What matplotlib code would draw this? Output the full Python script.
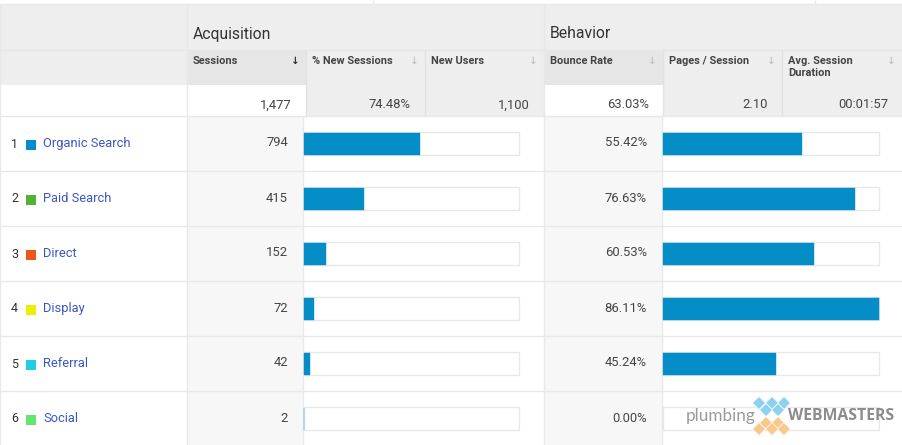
import matplotlib
matplotlib.use('Agg')
import matplotlib.pyplot as plt
from matplotlib.patches import Rectangle, Polygon

plt.rcParams['font.family'] = ['Roboto', 'DejaVu Sans']

W, H = 903, 445

channels = ['Organic Search', 'Paid Search', 'Direct', 'Display', 'Referral', 'Social']
swatches = ['#058dc7', '#50b432', '#ed561b', '#edef00', '#24cbe5', '#64e572']
sessions = [794, 415, 152, 72, 42, 2]
sessions_total = 1477
bounce = [55.42, 76.63, 60.53, 86.11, 45.24, 0.00]

metric_headers = ['Sessions', '% New Sessions', 'New Users', 'Bounce Rate', 'Pages / Session', 'Avg. Session\nDuration']
totals = ['1,477', '74.48%', '1,100', '63.03%', '2.10', '00:01:57']

LINE = '#e8e8e8'
HEAD = '#eeeeee'
BAR = '#058dc7'
TXT = '#444444'

# column edges of the metric headers, left edge of each + right end
col_x = [188, 307, 426, 545, 664, 783, 903]
ROW0, ROW_H = 116, 55


def box(ax, x0, y0, x1, y1, color, z=1):
    ax.add_patch(Rectangle((x0, y0), x1 - x0, y1 - y0, facecolor=color, edgecolor='none', zorder=z))


def bar_axes(fig, left, width, values, vmax):
    bar_ax = fig.add_axes([left / W, 0, width / W, (H - ROW0) / H])
    bar_ax.set_xlim(0, vmax)
    bar_ax.set_ylim((H - ROW0) / ROW_H - 0.5, -0.5)
    bar_ax.axis('off')
    rows = range(len(values))
    tracks = bar_ax.barh(rows, [vmax] * len(values), height=23 / ROW_H, facecolor='white', edgecolor=LINE, linewidth=1, zorder=1)
    for t in tracks:
        t.set_clip_on(False)
    # a non zero bar is always at least a hairline wide
    edges = [BAR if v > 0 else 'none' for v in values]
    bars = bar_ax.barh(rows, values, height=22 / ROW_H, color=BAR, edgecolor=edges, linewidth=0.3, zorder=2)
    for b in bars:
        b.set_clip_on(False)
    return bar_ax


fig = plt.figure(figsize=(W / 100, H / 100), dpi=100)
ax = fig.add_axes([0, 0, 1, 1])
ax.set_xlim(0, W)
ax.set_ylim(H, 0)
ax.axis('off')

# header bands
box(ax, 0, 4, W, 85, HEAD)
box(ax, 188, 50, 306, 85, '#e6e6e6', 2)
box(ax, 545, 50, 663, 85, '#e6e6e6', 2)
box(ax, 307, 85, 545, 116, HEAD)
box(ax, 664, 85, W, 116, HEAD)

# pale value columns
box(ax, 188, 116, 304, H, '#f7f7f7')
box(ax, 545, 116, 663, H, '#f7f7f7')

# grid
ax.hlines([3.5], 0, W, color=LINE, lw=1, zorder=3)
ax.vlines([373.5, 815.5], 0, 3, color=LINE, lw=1, zorder=3)
ax.hlines([49.5], 0, W, color='#e6e6e6', lw=1, zorder=3)
ax.hlines([ROW0 + ROW_H * i - 0.5 for i in range(6)], 0, W, color=LINE, lw=1, zorder=3)
ax.vlines([187.5, 544.5], 4, H, color=LINE, lw=1, zorder=3)
ax.vlines([306.5, 425.5, 663.5, 782.5], 50, 116, color='#e2e2e2', lw=1, zorder=3)
ax.vlines([303.5, 662.5], 116, H, color=LINE, lw=1, zorder=3)
ax.vlines([0.5], 4, H, color=LINE, lw=1, zorder=3)

# group titles
ax.text(193, 34, 'Acquisition', fontsize=11.3, color='#333333', va='center', zorder=5)
ax.text(550, 34, 'Behavior', fontsize=11.3, color='#333333', va='center', zorder=5)

# metric headers, sort arrows, totals
for i, label in enumerate(metric_headers):
    ax.text(col_x[i] + 5, 56, label, fontsize=7.9, fontweight='bold', color='#444444', va='top', linespacing=1.2, zorder=5)
    ax.text(col_x[i + 1] - 12, 60.5, '↓', fontsize=7.5, fontweight='bold', ha='center', va='center',
            color='#333333' if i == 0 else '#c4c4c4', zorder=5)
    ax.text(col_x[i + 1] - 15, 105, totals[i], fontsize=9.4, color=TXT, ha='right', va='center', zorder=5)

# rows
for i, name in enumerate(channels):
    y = ROW0 + ROW_H * i + 27
    ax.text(11, y + 1, str(i + 1), fontsize=9, color='#333333', va='center', zorder=5)
    box(ax, 26, y - 3, 36, y + 7, swatches[i], 5)
    ax.text(43, y + 0.5, name, fontsize=9.3, color='#3b55c4', va='center', zorder=5)
    ax.text(288, y, str(sessions[i]), fontsize=9.4, color=TXT, ha='right', va='center', zorder=5)
    ax.text(647, y, f'{bounce[i]:.2f}%', fontsize=9.4, color=TXT, ha='right', va='center', zorder=5)

bar_axes(fig, 303.5, 216, sessions, sessions_total)
bar_axes(fig, 662.5, 216, bounce, max(bounce))

# watermark on top of the last row
logo = fig.add_axes([0, 0, 1, 1])
logo.set_xlim(0, W)
logo.set_ylim(H, 0)
logo.axis('off')
logo.patch.set_alpha(0)
for cx, cy in [(759, 403), (772, 403), (784, 403), (766, 410), (778, 410)]:
    logo.add_patch(Polygon([(cx - 6.5, cy), (cx, cy - 6.5), (cx + 6.5, cy), (cx, cy + 6.5)], facecolor='#8ed0ef', edgecolor='white', lw=0.5))
for cx, cy in [(766, 423), (778, 423), (759, 429), (772, 429), (784, 429)]:
    logo.add_patch(Polygon([(cx - 6.5, cy), (cx, cy - 6.5), (cx + 6.5, cy), (cx, cy + 6.5)], facecolor='#f9c98b', edgecolor='white', lw=0.5))
logo.text(686, 416, 'plumbing', fontsize=12.3, color='#9a9a9a', family='Lato', va='center')
logo.text(788, 416, 'WEBMASTERS', fontsize=11.3, color='#8c8c8c', family='Open Sans', fontweight='bold', va='center')

fig.savefig('out.png', dpi=100)
